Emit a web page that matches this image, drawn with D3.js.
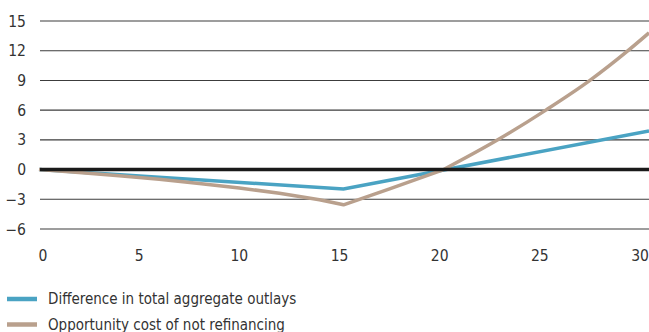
<!DOCTYPE html>
<html>
<head>
<meta charset="utf-8">
<script src="https://cdn.jsdelivr.net/npm/d3@7"></script>
<style>
  html, body { margin: 0; padding: 0; background: #ffffff; }
  svg { display: block; }
  text { font-family: "DejaVu Sans Condensed", "Liberation Sans Narrow", "Roboto", sans-serif; fill: #333333; }
</style>
</head>
<body>
<svg id="chart" width="649" height="332"></svg>
<script>
// Years since origination
const xTicks = [0, 5, 10, 15, 20, 25, 30];
const yTicks = [-6, -3, 0, 3, 6, 9, 12, 15];

// Difference in total aggregate outlays
const outlaysYears  = [0, 15.2, 30.45];
const outlaysValues = [0, -1.96, 3.9];

// Opportunity cost of not refinancing
const costYears  = [0, 2, 4, 6, 8, 10, 12, 14, 15.2, 17.5, 20.2, 22.9, 25.3, 27.5, 29.4, 30.45];
const costValues = [0, -0.3, -0.62, -0.98, -1.4, -1.85, -2.4, -3.05, -3.56, -1.95, 0, 3, 6, 9, 12, 13.8];

const seriesNames = ["Difference in total aggregate outlays", "Opportunity cost of not refinancing"];
const seriesColors = ["#4aa3c3", "#b9a08d"];

const svg = d3.select("#chart");
const W = 649;

const x = d3.scaleLinear().domain([0, 30]).range([39, 640]);
const y = d3.scaleLinear().domain([-6, 15]).range([229, 21]);

// Horizontal gridlines
svg.append("g")
  .selectAll("line")
  .data(yTicks.filter(d => d !== 0))
  .join("line")
  .attr("x1", 40).attr("x2", W)
  .attr("y1", d => y(d)).attr("y2", d => y(d))
  .attr("stroke", "#3c3c3c")
  .attr("stroke-width", 1.1);

// Y tick labels
svg.append("g")
  .selectAll("text")
  .data(yTicks)
  .join("text")
  .attr("x", 26)
  .attr("y", d => y(d))
  .attr("dy", "0.36em")
  .attr("text-anchor", "end")
  .attr("font-size", 15.5)
  .text(d => d < 0 ? "\u2212" + Math.abs(d) : d);

// X tick labels
svg.append("g")
  .selectAll("text")
  .data(xTicks)
  .join("text")
  .attr("x", d => d === 0 ? x(d) + 4 : x(d))
  .attr("y", 261)
  .attr("text-anchor", "middle")
  .attr("font-size", 15.5)
  .text(d => d);

// Data lines, clipped to the plot width
svg.append("clipPath").attr("id", "plotClip")
  .append("rect").attr("x", 38).attr("y", 0).attr("width", W - 38).attr("height", 240);

const line = d3.line().x(d => x(d[0])).y(d => y(d[1]));
const smooth = d3.line().x(d => x(d[0])).y(d => y(d[1])).curve(d3.curveMonotoneX);

const plot = svg.append("g").attr("clip-path", "url(#plotClip)");
plot.append("path")
  .datum(d3.zip(outlaysYears, outlaysValues))
  .attr("d", line)
  .attr("fill", "none")
  .attr("stroke", seriesColors[0])
  .attr("stroke-width", 3.5)
  .attr("stroke-linejoin", "miter");

// Opportunity cost: straight legs down to the trough and back to zero, smooth rise after
const cost = d3.zip(costYears, costValues);
const split = costValues.indexOf(0, 1);
plot.append("path")
  .datum(cost.slice(0, split + 1))
  .attr("d", line)
  .attr("fill", "none")
  .attr("stroke", seriesColors[1])
  .attr("stroke-width", 3.5)
  .attr("stroke-linejoin", "round");
plot.append("path")
  .datum(cost.slice(split))
  .attr("d", smooth)
  .attr("fill", "none")
  .attr("stroke", seriesColors[1])
  .attr("stroke-width", 3.5)
  .attr("stroke-linejoin", "round");

// Zero line
svg.append("line")
  .attr("x1", 40).attr("x2", W)
  .attr("y1", y(0)).attr("y2", y(0))
  .attr("stroke", "#1a1a1a")
  .attr("stroke-width", 3.5);

// Legend
const legend = svg.append("g")
  .selectAll("g")
  .data(seriesNames)
  .join("g")
  .attr("transform", (d, i) => `translate(0, ${299 + i * 25.5})`);

legend.append("line")
  .attr("x1", 7).attr("x2", 37)
  .attr("y1", 0).attr("y2", 0)
  .attr("stroke", (d, i) => seriesColors[i])
  .attr("stroke-width", 4.5);

legend.append("text")
  .attr("x", 48)
  .attr("y", 0)
  .attr("dy", "0.36em")
  .attr("font-size", 15)
  .text(d => d);
</script>
</body>
</html>
